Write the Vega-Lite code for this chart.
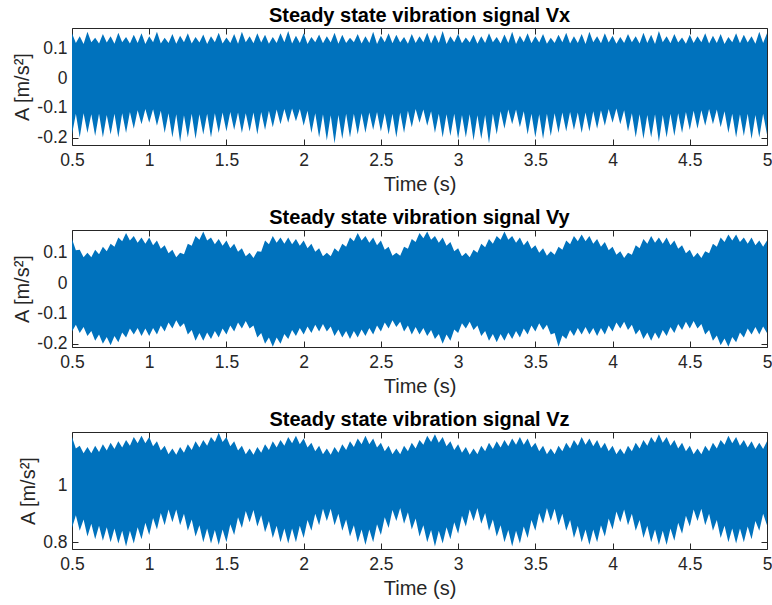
{
  "$schema": "https://vega.github.io/schema/vega-lite/v6.json",
  "background": "white",
  "padding": {"left": 12, "top": 5, "right": 5, "bottom": 3},
  "spacing": 12,
  "config": {
    "font": "Liberation Sans",
    "view": {"stroke": "#262626", "strokeWidth": 1},
    "axis": {"grid": false, "domain": false, "labelFlush": false, "tickColor": "#262626", "tickSize": -6, "tickWidth": 1, "labelColor": "#262626", "labelFontSize": 17.5, "labelFont": "Liberation Sans", "titleFont": "Liberation Sans", "titleFontSize": 20, "titleFontWeight": "normal", "titleColor": "#262626"},
    "axisBottom": {"labelPadding": 12, "titlePadding": 6},
    "axisLeft": {"labelPadding": 11, "titlePadding": 4},
    "axisTop": {"labelPadding": 6},
    "axisRight": {"labelPadding": 6},
    "title": {"fontSize": 20, "fontWeight": "bold", "color": "#000000", "font": "Liberation Sans", "offset": 1.4}
  },
  "datasets": {
    "vx": [
{"t":0.5,"hi":0.15,"lo":-0.19},{"t":0.525,"hi":0.118,"lo":-0.12},{"t":0.55,"hi":0.14,"lo":-0.2},{"t":0.575,"hi":0.114,"lo":-0.118},{"t":0.6,"hi":0.155,"lo":-0.185},{"t":0.625,"hi":0.12,"lo":-0.122},{"t":0.65,"hi":0.135,"lo":-0.195},{"t":0.675,"hi":0.116,"lo":-0.12},{"t":0.7,"hi":0.148,"lo":-0.2},{"t":0.725,"hi":0.119,"lo":-0.124},
{"t":0.75,"hi":0.14,"lo":-0.19},{"t":0.775,"hi":0.115,"lo":-0.12},{"t":0.8,"hi":0.152,"lo":-0.2},{"t":0.825,"hi":0.12,"lo":-0.118},{"t":0.85,"hi":0.138,"lo":-0.185},{"t":0.875,"hi":0.116,"lo":-0.114},{"t":0.9,"hi":0.145,"lo":-0.17},{"t":0.925,"hi":0.118,"lo":-0.108},{"t":0.95,"hi":0.15,"lo":-0.155},{"t":0.975,"hi":0.114,"lo":-0.104},
{"t":1.0,"hi":0.14,"lo":-0.15},{"t":1.025,"hi":0.12,"lo":-0.105},{"t":1.05,"hi":0.155,"lo":-0.16},{"t":1.075,"hi":0.116,"lo":-0.11},{"t":1.1,"hi":0.135,"lo":-0.185},{"t":1.125,"hi":0.118,"lo":-0.118},{"t":1.15,"hi":0.148,"lo":-0.2},{"t":1.175,"hi":0.115,"lo":-0.122},{"t":1.2,"hi":0.142,"lo":-0.215},{"t":1.225,"hi":0.12,"lo":-0.125},
{"t":1.25,"hi":0.15,"lo":-0.2},{"t":1.275,"hi":0.116,"lo":-0.12},{"t":1.3,"hi":0.138,"lo":-0.205},{"t":1.325,"hi":0.119,"lo":-0.122},{"t":1.35,"hi":0.146,"lo":-0.19},{"t":1.375,"hi":0.114,"lo":-0.12},{"t":1.4,"hi":0.14,"lo":-0.2},{"t":1.425,"hi":0.12,"lo":-0.118},{"t":1.45,"hi":0.152,"lo":-0.185},{"t":1.475,"hi":0.116,"lo":-0.116},
{"t":1.5,"hi":0.136,"lo":-0.18},{"t":1.525,"hi":0.118,"lo":-0.114},{"t":1.55,"hi":0.148,"lo":-0.175},{"t":1.575,"hi":0.115,"lo":-0.116},{"t":1.6,"hi":0.155,"lo":-0.185},{"t":1.625,"hi":0.12,"lo":-0.118},{"t":1.65,"hi":0.14,"lo":-0.18},{"t":1.675,"hi":0.117,"lo":-0.116},{"t":1.7,"hi":0.15,"lo":-0.19},{"t":1.725,"hi":0.119,"lo":-0.114},
{"t":1.75,"hi":0.145,"lo":-0.175},{"t":1.775,"hi":0.115,"lo":-0.11},{"t":1.8,"hi":0.138,"lo":-0.165},{"t":1.825,"hi":0.118,"lo":-0.106},{"t":1.85,"hi":0.15,"lo":-0.155},{"t":1.875,"hi":0.12,"lo":-0.104},{"t":1.9,"hi":0.158,"lo":-0.15},{"t":1.925,"hi":0.116,"lo":-0.102},{"t":1.95,"hi":0.142,"lo":-0.145},{"t":1.975,"hi":0.118,"lo":-0.104},
{"t":2.0,"hi":0.15,"lo":-0.16},{"t":2.025,"hi":0.114,"lo":-0.11},{"t":2.05,"hi":0.138,"lo":-0.185},{"t":2.075,"hi":0.12,"lo":-0.118},{"t":2.1,"hi":0.146,"lo":-0.2},{"t":2.125,"hi":0.117,"lo":-0.122},{"t":2.15,"hi":0.14,"lo":-0.21},{"t":2.175,"hi":0.119,"lo":-0.125},{"t":2.2,"hi":0.152,"lo":-0.22},{"t":2.225,"hi":0.115,"lo":-0.124},
{"t":2.25,"hi":0.145,"lo":-0.205},{"t":2.275,"hi":0.118,"lo":-0.12},{"t":2.3,"hi":0.135,"lo":-0.2},{"t":2.325,"hi":0.12,"lo":-0.12},{"t":2.35,"hi":0.148,"lo":-0.19},{"t":2.375,"hi":0.116,"lo":-0.118},{"t":2.4,"hi":0.14,"lo":-0.185},{"t":2.425,"hi":0.118,"lo":-0.116},{"t":2.45,"hi":0.155,"lo":-0.175},{"t":2.475,"hi":0.114,"lo":-0.114},
{"t":2.5,"hi":0.142,"lo":-0.18},{"t":2.525,"hi":0.12,"lo":-0.118},{"t":2.55,"hi":0.15,"lo":-0.19},{"t":2.575,"hi":0.117,"lo":-0.12},{"t":2.6,"hi":0.145,"lo":-0.2},{"t":2.625,"hi":0.119,"lo":-0.116},{"t":2.65,"hi":0.138,"lo":-0.185},{"t":2.675,"hi":0.115,"lo":-0.11},{"t":2.7,"hi":0.148,"lo":-0.165},{"t":2.725,"hi":0.118,"lo":-0.104},
{"t":2.75,"hi":0.14,"lo":-0.15},{"t":2.775,"hi":0.12,"lo":-0.106},{"t":2.8,"hi":0.152,"lo":-0.16},{"t":2.825,"hi":0.116,"lo":-0.112},{"t":2.85,"hi":0.145,"lo":-0.185},{"t":2.875,"hi":0.118,"lo":-0.12},{"t":2.9,"hi":0.158,"lo":-0.2},{"t":2.925,"hi":0.114,"lo":-0.122},{"t":2.95,"hi":0.14,"lo":-0.195},{"t":2.975,"hi":0.12,"lo":-0.12},
{"t":3.0,"hi":0.148,"lo":-0.205},{"t":3.025,"hi":0.117,"lo":-0.124},{"t":3.05,"hi":0.136,"lo":-0.2},{"t":3.075,"hi":0.119,"lo":-0.122},{"t":3.1,"hi":0.145,"lo":-0.21},{"t":3.125,"hi":0.115,"lo":-0.125},{"t":3.15,"hi":0.14,"lo":-0.205},{"t":3.175,"hi":0.118,"lo":-0.124},{"t":3.2,"hi":0.15,"lo":-0.22},{"t":3.225,"hi":0.12,"lo":-0.12},
{"t":3.25,"hi":0.138,"lo":-0.19},{"t":3.275,"hi":0.116,"lo":-0.112},{"t":3.3,"hi":0.146,"lo":-0.17},{"t":3.325,"hi":0.118,"lo":-0.106},{"t":3.35,"hi":0.155,"lo":-0.155},{"t":3.375,"hi":0.114,"lo":-0.106},{"t":3.4,"hi":0.142,"lo":-0.165},{"t":3.425,"hi":0.12,"lo":-0.112},{"t":3.45,"hi":0.15,"lo":-0.19},{"t":3.475,"hi":0.117,"lo":-0.12},
{"t":3.5,"hi":0.14,"lo":-0.2},{"t":3.525,"hi":0.119,"lo":-0.122},{"t":3.55,"hi":0.148,"lo":-0.205},{"t":3.575,"hi":0.115,"lo":-0.12},{"t":3.6,"hi":0.135,"lo":-0.195},{"t":3.625,"hi":0.118,"lo":-0.118},{"t":3.65,"hi":0.145,"lo":-0.185},{"t":3.675,"hi":0.12,"lo":-0.116},{"t":3.7,"hi":0.152,"lo":-0.18},{"t":3.725,"hi":0.116,"lo":-0.114},
{"t":3.75,"hi":0.14,"lo":-0.175},{"t":3.775,"hi":0.118,"lo":-0.116},{"t":3.8,"hi":0.148,"lo":-0.185},{"t":3.825,"hi":0.114,"lo":-0.116},{"t":3.85,"hi":0.155,"lo":-0.18},{"t":3.875,"hi":0.12,"lo":-0.112},{"t":3.9,"hi":0.14,"lo":-0.17},{"t":3.925,"hi":0.117,"lo":-0.108},{"t":3.95,"hi":0.15,"lo":-0.16},{"t":3.975,"hi":0.119,"lo":-0.104},
{"t":4.0,"hi":0.142,"lo":-0.15},{"t":4.025,"hi":0.115,"lo":-0.102},{"t":4.05,"hi":0.138,"lo":-0.155},{"t":4.075,"hi":0.118,"lo":-0.108},{"t":4.1,"hi":0.148,"lo":-0.18},{"t":4.125,"hi":0.12,"lo":-0.118},{"t":4.15,"hi":0.14,"lo":-0.2},{"t":4.175,"hi":0.116,"lo":-0.122},{"t":4.2,"hi":0.152,"lo":-0.205},{"t":4.225,"hi":0.118,"lo":-0.124},
{"t":4.25,"hi":0.145,"lo":-0.2},{"t":4.275,"hi":0.114,"lo":-0.122},{"t":4.3,"hi":0.158,"lo":-0.215},{"t":4.325,"hi":0.12,"lo":-0.124},{"t":4.35,"hi":0.14,"lo":-0.2},{"t":4.375,"hi":0.117,"lo":-0.12},{"t":4.4,"hi":0.148,"lo":-0.195},{"t":4.425,"hi":0.119,"lo":-0.118},{"t":4.45,"hi":0.136,"lo":-0.185},{"t":4.475,"hi":0.115,"lo":-0.114},
{"t":4.5,"hi":0.145,"lo":-0.175},{"t":4.525,"hi":0.118,"lo":-0.11},{"t":4.55,"hi":0.14,"lo":-0.17},{"t":4.575,"hi":0.12,"lo":-0.108},{"t":4.6,"hi":0.15,"lo":-0.16},{"t":4.625,"hi":0.116,"lo":-0.104},{"t":4.65,"hi":0.142,"lo":-0.155},{"t":4.675,"hi":0.118,"lo":-0.106},{"t":4.7,"hi":0.148,"lo":-0.165},{"t":4.725,"hi":0.114,"lo":-0.112},
{"t":4.75,"hi":0.138,"lo":-0.185},{"t":4.775,"hi":0.12,"lo":-0.12},{"t":4.8,"hi":0.15,"lo":-0.2},{"t":4.825,"hi":0.117,"lo":-0.122},{"t":4.85,"hi":0.145,"lo":-0.195},{"t":4.875,"hi":0.119,"lo":-0.12},{"t":4.9,"hi":0.14,"lo":-0.205},{"t":4.925,"hi":0.115,"lo":-0.124},{"t":4.95,"hi":0.155,"lo":-0.2},{"t":4.975,"hi":0.118,"lo":-0.12},
{"t":5.0,"hi":0.15,"lo":-0.19}
    ],
    "vy": [
{"t":0.5,"hi":0.145,"lo":-0.16},{"t":0.525,"hi":0.108,"lo":-0.138},{"t":0.55,"hi":0.11,"lo":-0.165},{"t":0.575,"hi":0.085,"lo":-0.145},{"t":0.6,"hi":0.1,"lo":-0.175},{"t":0.625,"hi":0.085,"lo":-0.158},{"t":0.65,"hi":0.11,"lo":-0.19},{"t":0.675,"hi":0.095,"lo":-0.17},{"t":0.7,"hi":0.12,"lo":-0.2},{"t":0.725,"hi":0.105,"lo":-0.178},
{"t":0.75,"hi":0.13,"lo":-0.205},{"t":0.775,"hi":0.12,"lo":-0.175},{"t":0.8,"hi":0.15,"lo":-0.195},{"t":0.825,"hi":0.138,"lo":-0.163},{"t":0.85,"hi":0.165,"lo":-0.18},{"t":0.875,"hi":0.14,"lo":-0.15},{"t":0.9,"hi":0.155,"lo":-0.17},{"t":0.925,"hi":0.133,"lo":-0.148},{"t":0.95,"hi":0.15,"lo":-0.175},{"t":0.975,"hi":0.13,"lo":-0.15},
{"t":1.0,"hi":0.15,"lo":-0.175},{"t":1.025,"hi":0.125,"lo":-0.148},{"t":1.05,"hi":0.14,"lo":-0.17},{"t":1.075,"hi":0.113,"lo":-0.14},{"t":1.1,"hi":0.125,"lo":-0.16},{"t":1.125,"hi":0.098,"lo":-0.13},{"t":1.15,"hi":0.11,"lo":-0.15},{"t":1.175,"hi":0.085,"lo":-0.123},{"t":1.2,"hi":0.1,"lo":-0.145},{"t":1.225,"hi":0.095,"lo":-0.133},
{"t":1.25,"hi":0.13,"lo":-0.17},{"t":1.275,"hi":0.123,"lo":-0.155},{"t":1.3,"hi":0.155,"lo":-0.19},{"t":1.325,"hi":0.143,"lo":-0.165},{"t":1.35,"hi":0.17,"lo":-0.19},{"t":1.375,"hi":0.14,"lo":-0.163},{"t":1.4,"hi":0.15,"lo":-0.185},{"t":1.425,"hi":0.128,"lo":-0.158},{"t":1.45,"hi":0.145,"lo":-0.18},{"t":1.475,"hi":0.123,"lo":-0.15},
{"t":1.5,"hi":0.14,"lo":-0.17},{"t":1.525,"hi":0.115,"lo":-0.14},{"t":1.55,"hi":0.13,"lo":-0.16},{"t":1.575,"hi":0.103,"lo":-0.13},{"t":1.6,"hi":0.115,"lo":-0.15},{"t":1.625,"hi":0.088,"lo":-0.125},{"t":1.65,"hi":0.1,"lo":-0.15},{"t":1.675,"hi":0.083,"lo":-0.14},{"t":1.7,"hi":0.105,"lo":-0.18},{"t":1.725,"hi":0.103,"lo":-0.165},
{"t":1.75,"hi":0.14,"lo":-0.2},{"t":1.775,"hi":0.128,"lo":-0.18},{"t":1.8,"hi":0.155,"lo":-0.21},{"t":1.825,"hi":0.133,"lo":-0.18},{"t":1.85,"hi":0.15,"lo":-0.2},{"t":1.875,"hi":0.13,"lo":-0.168},{"t":1.9,"hi":0.15,"lo":-0.185},{"t":1.925,"hi":0.128,"lo":-0.155},{"t":1.95,"hi":0.145,"lo":-0.175},{"t":1.975,"hi":0.123,"lo":-0.148},
{"t":2.0,"hi":0.14,"lo":-0.17},{"t":2.025,"hi":0.115,"lo":-0.143},{"t":2.05,"hi":0.13,"lo":-0.165},{"t":2.075,"hi":0.103,"lo":-0.138},{"t":2.1,"hi":0.115,"lo":-0.16},{"t":2.125,"hi":0.088,"lo":-0.135},{"t":2.15,"hi":0.1,"lo":-0.16},{"t":2.175,"hi":0.088,"lo":-0.143},{"t":2.2,"hi":0.115,"lo":-0.175},{"t":2.225,"hi":0.103,"lo":-0.153},
{"t":2.25,"hi":0.13,"lo":-0.18},{"t":2.275,"hi":0.12,"lo":-0.158},{"t":2.3,"hi":0.15,"lo":-0.185},{"t":2.325,"hi":0.138,"lo":-0.158},{"t":2.35,"hi":0.165,"lo":-0.18},{"t":2.375,"hi":0.14,"lo":-0.153},{"t":2.4,"hi":0.155,"lo":-0.175},{"t":2.425,"hi":0.133,"lo":-0.148},{"t":2.45,"hi":0.15,"lo":-0.17},{"t":2.475,"hi":0.125,"lo":-0.14},
{"t":2.5,"hi":0.14,"lo":-0.16},{"t":2.525,"hi":0.11,"lo":-0.13},{"t":2.55,"hi":0.12,"lo":-0.15},{"t":2.575,"hi":0.09,"lo":-0.123},{"t":2.6,"hi":0.1,"lo":-0.145},{"t":2.625,"hi":0.09,"lo":-0.128},{"t":2.65,"hi":0.12,"lo":-0.16},{"t":2.675,"hi":0.113,"lo":-0.14},{"t":2.7,"hi":0.145,"lo":-0.17},{"t":2.725,"hi":0.135,"lo":-0.145},
{"t":2.75,"hi":0.165,"lo":-0.17},{"t":2.775,"hi":0.148,"lo":-0.148},{"t":2.8,"hi":0.17,"lo":-0.175},{"t":2.825,"hi":0.143,"lo":-0.155},{"t":2.85,"hi":0.155,"lo":-0.185},{"t":2.875,"hi":0.133,"lo":-0.168},{"t":2.9,"hi":0.15,"lo":-0.2},{"t":2.925,"hi":0.123,"lo":-0.17},{"t":2.95,"hi":0.135,"lo":-0.19},{"t":2.975,"hi":0.105,"lo":-0.153},
{"t":3.0,"hi":0.115,"lo":-0.165},{"t":3.025,"hi":0.088,"lo":-0.133},{"t":3.05,"hi":0.1,"lo":-0.15},{"t":3.075,"hi":0.085,"lo":-0.128},{"t":3.1,"hi":0.11,"lo":-0.155},{"t":3.125,"hi":0.1,"lo":-0.14},{"t":3.15,"hi":0.13,"lo":-0.175},{"t":3.175,"hi":0.118,"lo":-0.158},{"t":3.2,"hi":0.145,"lo":-0.19},{"t":3.225,"hi":0.13,"lo":-0.168},
{"t":3.25,"hi":0.155,"lo":-0.195},{"t":3.275,"hi":0.143,"lo":-0.168},{"t":3.3,"hi":0.17,"lo":-0.19},{"t":3.325,"hi":0.143,"lo":-0.163},{"t":3.35,"hi":0.155,"lo":-0.185},{"t":3.375,"hi":0.133,"lo":-0.158},{"t":3.4,"hi":0.15,"lo":-0.18},{"t":3.425,"hi":0.125,"lo":-0.15},{"t":3.45,"hi":0.14,"lo":-0.17},{"t":3.475,"hi":0.113,"lo":-0.14},
{"t":3.5,"hi":0.125,"lo":-0.16},{"t":3.525,"hi":0.1,"lo":-0.133},{"t":3.55,"hi":0.115,"lo":-0.155},{"t":3.575,"hi":0.09,"lo":-0.138},{"t":3.6,"hi":0.105,"lo":-0.17},{"t":3.625,"hi":0.093,"lo":-0.165},{"t":3.65,"hi":0.12,"lo":-0.21},{"t":3.675,"hi":0.11,"lo":-0.173},{"t":3.7,"hi":0.14,"lo":-0.185},{"t":3.725,"hi":0.128,"lo":-0.155},
{"t":3.75,"hi":0.155,"lo":-0.175},{"t":3.775,"hi":0.138,"lo":-0.148},{"t":3.8,"hi":0.16,"lo":-0.17},{"t":3.825,"hi":0.138,"lo":-0.145},{"t":3.85,"hi":0.155,"lo":-0.17},{"t":3.875,"hi":0.13,"lo":-0.148},{"t":3.9,"hi":0.145,"lo":-0.175},{"t":3.925,"hi":0.12,"lo":-0.148},{"t":3.95,"hi":0.135,"lo":-0.17},{"t":3.975,"hi":0.108,"lo":-0.14},
{"t":4.0,"hi":0.12,"lo":-0.16},{"t":4.025,"hi":0.093,"lo":-0.13},{"t":4.05,"hi":0.105,"lo":-0.15},{"t":4.075,"hi":0.083,"lo":-0.128},{"t":4.1,"hi":0.1,"lo":-0.155},{"t":4.125,"hi":0.093,"lo":-0.138},{"t":4.15,"hi":0.125,"lo":-0.17},{"t":4.175,"hi":0.115,"lo":-0.153},{"t":4.2,"hi":0.145,"lo":-0.185},{"t":4.225,"hi":0.13,"lo":-0.163},
{"t":4.25,"hi":0.155,"lo":-0.19},{"t":4.275,"hi":0.133,"lo":-0.163},{"t":4.3,"hi":0.15,"lo":-0.185},{"t":4.325,"hi":0.13,"lo":-0.155},{"t":4.35,"hi":0.15,"lo":-0.175},{"t":4.375,"hi":0.125,"lo":-0.145},{"t":4.4,"hi":0.14,"lo":-0.165},{"t":4.425,"hi":0.113,"lo":-0.135},{"t":4.45,"hi":0.125,"lo":-0.155},{"t":4.475,"hi":0.098,"lo":-0.128},
{"t":4.5,"hi":0.11,"lo":-0.15},{"t":4.525,"hi":0.085,"lo":-0.125},{"t":4.55,"hi":0.1,"lo":-0.15},{"t":4.575,"hi":0.083,"lo":-0.135},{"t":4.6,"hi":0.105,"lo":-0.17},{"t":4.625,"hi":0.098,"lo":-0.155},{"t":4.65,"hi":0.13,"lo":-0.19},{"t":4.675,"hi":0.12,"lo":-0.173},{"t":4.7,"hi":0.15,"lo":-0.205},{"t":4.725,"hi":0.135,"lo":-0.183},
{"t":4.75,"hi":0.16,"lo":-0.21},{"t":4.775,"hi":0.14,"lo":-0.178},{"t":4.8,"hi":0.16,"lo":-0.195},{"t":4.825,"hi":0.135,"lo":-0.163},{"t":4.85,"hi":0.15,"lo":-0.18},{"t":4.875,"hi":0.13,"lo":-0.15},{"t":4.9,"hi":0.15,"lo":-0.17},{"t":4.925,"hi":0.125,"lo":-0.145},{"t":4.95,"hi":0.14,"lo":-0.17},{"t":4.975,"hi":0.12,"lo":-0.143},
{"t":5.0,"hi":0.14,"lo":-0.165}
    ],
    "vz": [
{"t":0.5,"hi":1.17,"lo":0.85},{"t":0.525,"hi":1.13,"lo":0.895},{"t":0.55,"hi":1.14,"lo":0.84},{"t":0.575,"hi":1.113,"lo":0.88},{"t":0.6,"hi":1.135,"lo":0.82},{"t":0.625,"hi":1.113,"lo":0.865},{"t":0.65,"hi":1.14,"lo":0.81},{"t":0.675,"hi":1.118,"lo":0.858},{"t":0.7,"hi":1.145,"lo":0.805},{"t":0.725,"hi":1.123,"lo":0.853},
{"t":0.75,"hi":1.15,"lo":0.8},{"t":0.775,"hi":1.128,"lo":0.848},{"t":0.8,"hi":1.155,"lo":0.795},{"t":0.825,"hi":1.133,"lo":0.84},{"t":0.85,"hi":1.16,"lo":0.785},{"t":0.875,"hi":1.14,"lo":0.84},{"t":0.9,"hi":1.17,"lo":0.795},{"t":0.925,"hi":1.148,"lo":0.853},{"t":0.95,"hi":1.175,"lo":0.81},{"t":0.975,"hi":1.148,"lo":0.868},
{"t":1.0,"hi":1.17,"lo":0.825},{"t":1.025,"hi":1.138,"lo":0.885},{"t":1.05,"hi":1.155,"lo":0.845},{"t":1.075,"hi":1.123,"lo":0.903},{"t":1.1,"hi":1.14,"lo":0.86},{"t":1.125,"hi":1.11,"lo":0.915},{"t":1.15,"hi":1.13,"lo":0.87},{"t":1.175,"hi":1.108,"lo":0.915},{"t":1.2,"hi":1.135,"lo":0.86},{"t":1.225,"hi":1.115,"lo":0.9},
{"t":1.25,"hi":1.145,"lo":0.84},{"t":1.275,"hi":1.125,"lo":0.88},{"t":1.3,"hi":1.155,"lo":0.82},{"t":1.325,"hi":1.133,"lo":0.86},{"t":1.35,"hi":1.16,"lo":0.8},{"t":1.375,"hi":1.14,"lo":0.848},{"t":1.4,"hi":1.17,"lo":0.795},{"t":1.425,"hi":1.153,"lo":0.843},{"t":1.45,"hi":1.185,"lo":0.79},{"t":1.475,"hi":1.153,"lo":0.845},
{"t":1.5,"hi":1.17,"lo":0.8},{"t":1.525,"hi":1.138,"lo":0.863},{"t":1.55,"hi":1.155,"lo":0.825},{"t":1.575,"hi":1.123,"lo":0.888},{"t":1.6,"hi":1.14,"lo":0.85},{"t":1.625,"hi":1.11,"lo":0.91},{"t":1.65,"hi":1.13,"lo":0.87},{"t":1.675,"hi":1.108,"lo":0.913},{"t":1.7,"hi":1.135,"lo":0.855},{"t":1.725,"hi":1.115,"lo":0.895},
{"t":1.75,"hi":1.145,"lo":0.835},{"t":1.775,"hi":1.125,"lo":0.875},{"t":1.8,"hi":1.155,"lo":0.815},{"t":1.825,"hi":1.133,"lo":0.858},{"t":1.85,"hi":1.16,"lo":0.8},{"t":1.875,"hi":1.14,"lo":0.848},{"t":1.9,"hi":1.17,"lo":0.795},{"t":1.925,"hi":1.148,"lo":0.848},{"t":1.95,"hi":1.175,"lo":0.8},{"t":1.975,"hi":1.145,"lo":0.858},
{"t":2.0,"hi":1.165,"lo":0.815},{"t":2.025,"hi":1.133,"lo":0.878},{"t":2.05,"hi":1.15,"lo":0.84},{"t":2.075,"hi":1.12,"lo":0.9},{"t":2.1,"hi":1.14,"lo":0.86},{"t":2.125,"hi":1.11,"lo":0.918},{"t":2.15,"hi":1.13,"lo":0.875},{"t":2.175,"hi":1.108,"lo":0.918},{"t":2.2,"hi":1.135,"lo":0.86},{"t":2.225,"hi":1.115,"lo":0.9},
{"t":2.25,"hi":1.145,"lo":0.84},{"t":2.275,"hi":1.125,"lo":0.88},{"t":2.3,"hi":1.155,"lo":0.82},{"t":2.325,"hi":1.135,"lo":0.86},{"t":2.35,"hi":1.165,"lo":0.8},{"t":2.375,"hi":1.145,"lo":0.845},{"t":2.4,"hi":1.175,"lo":0.79},{"t":2.425,"hi":1.145,"lo":0.845},{"t":2.45,"hi":1.165,"lo":0.8},{"t":2.475,"hi":1.133,"lo":0.863},
{"t":2.5,"hi":1.15,"lo":0.825},{"t":2.525,"hi":1.12,"lo":0.888},{"t":2.55,"hi":1.14,"lo":0.85},{"t":2.575,"hi":1.11,"lo":0.913},{"t":2.6,"hi":1.13,"lo":0.875},{"t":2.625,"hi":1.11,"lo":0.92},{"t":2.65,"hi":1.14,"lo":0.865},{"t":2.675,"hi":1.12,"lo":0.905},{"t":2.7,"hi":1.15,"lo":0.845},{"t":2.725,"hi":1.13,"lo":0.883},
{"t":2.75,"hi":1.16,"lo":0.82},{"t":2.775,"hi":1.143,"lo":0.86},{"t":2.8,"hi":1.175,"lo":0.8},{"t":2.825,"hi":1.153,"lo":0.843},{"t":2.85,"hi":1.18,"lo":0.785},{"t":2.875,"hi":1.15,"lo":0.84},{"t":2.9,"hi":1.17,"lo":0.795},{"t":2.925,"hi":1.138,"lo":0.853},{"t":2.95,"hi":1.155,"lo":0.81},{"t":2.975,"hi":1.125,"lo":0.87},
{"t":3.0,"hi":1.145,"lo":0.83},{"t":3.025,"hi":1.115,"lo":0.893},{"t":3.05,"hi":1.135,"lo":0.855},{"t":3.075,"hi":1.108,"lo":0.915},{"t":3.1,"hi":1.13,"lo":0.875},{"t":3.125,"hi":1.11,"lo":0.92},{"t":3.15,"hi":1.14,"lo":0.865},{"t":3.175,"hi":1.12,"lo":0.903},{"t":3.2,"hi":1.15,"lo":0.84},{"t":3.225,"hi":1.128,"lo":0.88},
{"t":3.25,"hi":1.155,"lo":0.82},{"t":3.275,"hi":1.133,"lo":0.86},{"t":3.3,"hi":1.16,"lo":0.8},{"t":3.325,"hi":1.138,"lo":0.843},{"t":3.35,"hi":1.165,"lo":0.785},{"t":3.375,"hi":1.143,"lo":0.84},{"t":3.4,"hi":1.17,"lo":0.795},{"t":3.425,"hi":1.143,"lo":0.855},{"t":3.45,"hi":1.165,"lo":0.815},{"t":3.475,"hi":1.133,"lo":0.878},
{"t":3.5,"hi":1.15,"lo":0.84},{"t":3.525,"hi":1.12,"lo":0.903},{"t":3.55,"hi":1.14,"lo":0.865},{"t":3.575,"hi":1.11,"lo":0.92},{"t":3.6,"hi":1.13,"lo":0.875},{"t":3.625,"hi":1.11,"lo":0.918},{"t":3.65,"hi":1.14,"lo":0.86},{"t":3.675,"hi":1.12,"lo":0.9},{"t":3.7,"hi":1.15,"lo":0.84},{"t":3.725,"hi":1.13,"lo":0.878},
{"t":3.75,"hi":1.16,"lo":0.815},{"t":3.775,"hi":1.14,"lo":0.858},{"t":3.8,"hi":1.17,"lo":0.8},{"t":3.825,"hi":1.143,"lo":0.845},{"t":3.85,"hi":1.165,"lo":0.79},{"t":3.875,"hi":1.138,"lo":0.845},{"t":3.9,"hi":1.16,"lo":0.8},{"t":3.925,"hi":1.13,"lo":0.86},{"t":3.95,"hi":1.15,"lo":0.82},{"t":3.975,"hi":1.12,"lo":0.883},
{"t":4.0,"hi":1.14,"lo":0.845},{"t":4.025,"hi":1.11,"lo":0.908},{"t":4.05,"hi":1.13,"lo":0.87},{"t":4.075,"hi":1.11,"lo":0.915},{"t":4.1,"hi":1.14,"lo":0.86},{"t":4.125,"hi":1.12,"lo":0.9},{"t":4.15,"hi":1.15,"lo":0.84},{"t":4.175,"hi":1.13,"lo":0.878},{"t":4.2,"hi":1.16,"lo":0.815},{"t":4.225,"hi":1.14,"lo":0.858},
{"t":4.25,"hi":1.17,"lo":0.8},{"t":4.275,"hi":1.15,"lo":0.845},{"t":4.3,"hi":1.18,"lo":0.79},{"t":4.325,"hi":1.15,"lo":0.84},{"t":4.35,"hi":1.17,"lo":0.79},{"t":4.375,"hi":1.14,"lo":0.848},{"t":4.4,"hi":1.16,"lo":0.805},{"t":4.425,"hi":1.13,"lo":0.868},{"t":4.45,"hi":1.15,"lo":0.83},{"t":4.475,"hi":1.12,"lo":0.893},
{"t":4.5,"hi":1.14,"lo":0.855},{"t":4.525,"hi":1.11,"lo":0.915},{"t":4.55,"hi":1.13,"lo":0.875},{"t":4.575,"hi":1.11,"lo":0.918},{"t":4.6,"hi":1.14,"lo":0.86},{"t":4.625,"hi":1.12,"lo":0.9},{"t":4.65,"hi":1.15,"lo":0.84},{"t":4.675,"hi":1.13,"lo":0.878},{"t":4.7,"hi":1.16,"lo":0.815},{"t":4.725,"hi":1.143,"lo":0.858},
{"t":4.75,"hi":1.175,"lo":0.8},{"t":4.775,"hi":1.148,"lo":0.848},{"t":4.8,"hi":1.17,"lo":0.795},{"t":4.825,"hi":1.14,"lo":0.848},{"t":4.85,"hi":1.16,"lo":0.8},{"t":4.875,"hi":1.133,"lo":0.855},{"t":4.9,"hi":1.155,"lo":0.81},{"t":4.925,"hi":1.128,"lo":0.875},{"t":4.95,"hi":1.15,"lo":0.84},{"t":4.975,"hi":1.128,"lo":0.9},
{"t":5.0,"hi":1.155,"lo":0.86}
    ]
  },
  "vconcat": [
    {
      "width": 695, "height": 117,
      "title": "Steady state vibration signal Vx",
      "data": {"name": "vx"},
      "layer": [
        {
          "mark": {"type": "area", "color": "#0072BD", "clip": true},
          "encoding": {
            "x": {"field": "t", "type": "quantitative", "scale": {"domain": [0.5, 5], "nice": false}, "axis": {"title": "Time (s)", "values": [0.5, 1, 1.5, 2, 2.5, 3, 3.5, 4, 4.5, 5], "labelExpr": "format(datum.value, '~g')"}},
            "y": {"field": "hi", "type": "quantitative", "scale": {"domain": [-0.225, 0.168], "nice": false, "zero": false}, "axis": {"title": "A [m/s²]", "values": [-0.2, -0.1, 0, 0.1], "labelExpr": "replace(format(datum.value, '~g'), '\u2212', '-')"}},
            "y2": {"field": "lo"}
          }
        },
        {
          "mark": {"type": "area", "opacity": 0},
          "encoding": {
            "x": {"field": "t", "type": "quantitative", "axis": {"orient": "top", "labels": false, "title": null, "values": [0.5, 1, 1.5, 2, 2.5, 3, 3.5, 4, 4.5, 5]}},
            "y": {"field": "hi", "type": "quantitative", "axis": {"orient": "right", "labels": false, "title": null, "values": [-0.2, -0.1, 0, 0.1]}},
            "y2": {"field": "lo"}
          }
        }
      ],
      "resolve": {"axis": {"x": "independent", "y": "independent"}}
    },
    {
      "width": 695, "height": 117,
      "title": "Steady state vibration signal Vy",
      "data": {"name": "vy"},
      "layer": [
        {
          "mark": {"type": "area", "color": "#0072BD", "clip": true},
          "encoding": {
            "x": {"field": "t", "type": "quantitative", "scale": {"domain": [0.5, 5], "nice": false}, "axis": {"title": "Time (s)", "values": [0.5, 1, 1.5, 2, 2.5, 3, 3.5, 4, 4.5, 5], "labelExpr": "format(datum.value, '~g')"}},
            "y": {"field": "hi", "type": "quantitative", "scale": {"domain": [-0.211, 0.175], "nice": false, "zero": false}, "axis": {"title": "A [m/s²]", "values": [-0.2, -0.1, 0, 0.1], "labelExpr": "replace(format(datum.value, '~g'), '\u2212', '-')"}},
            "y2": {"field": "lo"}
          }
        },
        {
          "mark": {"type": "area", "opacity": 0},
          "encoding": {
            "x": {"field": "t", "type": "quantitative", "axis": {"orient": "top", "labels": false, "title": null, "values": [0.5, 1, 1.5, 2, 2.5, 3, 3.5, 4, 4.5, 5]}},
            "y": {"field": "hi", "type": "quantitative", "axis": {"orient": "right", "labels": false, "title": null, "values": [-0.2, -0.1, 0, 0.1]}},
            "y2": {"field": "lo"}
          }
        }
      ],
      "resolve": {"axis": {"x": "independent", "y": "independent"}}
    },
    {
      "width": 695, "height": 117,
      "title": "Steady state vibration signal Vz",
      "data": {"name": "vz"},
      "layer": [
        {
          "mark": {"type": "area", "color": "#0072BD", "clip": true},
          "encoding": {
            "x": {"field": "t", "type": "quantitative", "scale": {"domain": [0.5, 5], "nice": false}, "axis": {"title": "Time (s)", "values": [0.5, 1, 1.5, 2, 2.5, 3, 3.5, 4, 4.5, 5], "labelExpr": "format(datum.value, '~g')"}},
            "y": {"field": "hi", "type": "quantitative", "scale": {"domain": [0.776, 1.188], "nice": false, "zero": false}, "axis": {"title": "A [m/s²]", "values": [0.8, 1], "labelExpr": "format(datum.value, '~g')"}},
            "y2": {"field": "lo"}
          }
        },
        {
          "mark": {"type": "area", "opacity": 0},
          "encoding": {
            "x": {"field": "t", "type": "quantitative", "axis": {"orient": "top", "labels": false, "title": null, "values": [0.5, 1, 1.5, 2, 2.5, 3, 3.5, 4, 4.5, 5]}},
            "y": {"field": "hi", "type": "quantitative", "axis": {"orient": "right", "labels": false, "title": null, "values": [0.8, 1]}},
            "y2": {"field": "lo"}
          }
        }
      ],
      "resolve": {"axis": {"x": "independent", "y": "independent"}}
    }
  ]
}
